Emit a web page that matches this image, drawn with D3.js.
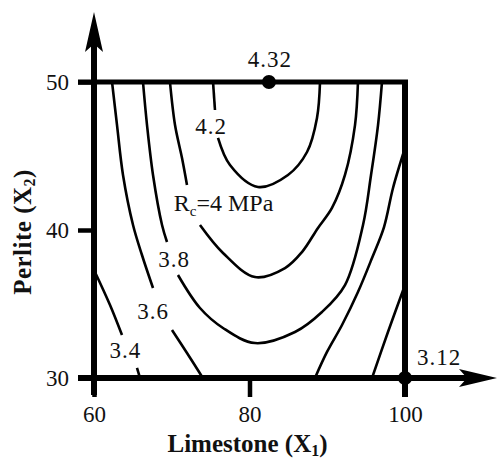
<!DOCTYPE html>
<html>
<head>
<meta charset="utf-8">
<script src="https://cdn.jsdelivr.net/npm/d3@7"></script>
<style>
  body { margin: 0; background: #fff; }
  svg text { font-family: "Liberation Serif", "DejaVu Serif", serif; fill: #111; }
  .tick text { font-size: 23px; font-family: "Liberation Serif", serif; }
  .clabel { font-size: 23px; }
  .title { font-size: 25px; font-weight: bold; }
</style>
</head>
<body>
<svg width="498" height="459"></svg>
<script>
// axis ticks
var x1Ticks = [60, 80, 100];
var x2Ticks = [30, 40, 50];

// contour levels (MPa)
var levels = [3.4, 3.6, 3.8, 4.0, 4.2];

// contour lines, [Limestone X1, Perlite X2]
// split where the level label sits on the line
var c34a = [[60, 37.3], [62.06, 34.93], [63.6, 32.9]];
var c34b = [[65.53, 30.68], [65.92, 30]];
var c34r = [[100, 36.28], [97.81, 33.11], [95.76, 30]];

var c36a = [[62.32, 50], [62.96, 47.09], [63.73, 43.72], [65.02, 40.34], [66.17, 38.31], [67.59, 36.08]];
var c36b = [[70.03, 33.24], [71.96, 31.69], [74.0, 30]];
var c36r = [[100, 45.54], [98.46, 42.84], [97.3, 40.2], [95.76, 38.11], [93.95, 35.81], [91.9, 33.58], [89.97, 31.76], [88.42, 30]];

var c38a = [[66.3, 50], [66.82, 47.09], [67.59, 43.72], [68.75, 40.34], [69.39, 39.19]];
var c38b = [[70.8, 36.96], [73.63, 34.73], [76.59, 33.38], [80.7, 32.36], [85.85, 33.11], [89.32, 34.46],
            [92.28, 36.28], [94.6, 40.34], [95.63, 43.72], [96.53, 47.09], [97.04, 50]];

var c40a = [[69.77, 50], [70.42, 47.09], [71.32, 44.86], [71.96, 43.04]];
var c40b = [[73.63, 40.34], [76.59, 38.45], [80.7, 36.82], [84.57, 37.43], [86.75, 38.51], [88.81, 40.14],
            [90.61, 41.49], [92.28, 43.72], [93.57, 47.09], [93.95, 50]];

var c42a = [[75.31, 50], [75.56, 48.11]];
var c42b = [[75.95, 46.22], [77.49, 44.39], [81.09, 42.91], [84.95, 43.72], [87.4, 45.27], [88.68, 47.57], [89.07, 50]];

var contourLines = [c34a, c34b, c34r, c36a, c36b, c36r, c38a, c38b, c40a, c40b, c42a, c42b];

// optimum points: max and min of Rc
var extremeX1 = [82.5, 100];
var extremeX2 = [50, 30];
var extremeVal = ["4.32", "3.12"];

var svg = d3.select("svg");

var x = d3.scaleLinear().domain([60, 100]).range([94, 405]);
var y = d3.scaleLinear().domain([30, 50]).range([378, 82]);

svg.append("clipPath").attr("id", "plot")
  .append("rect")
  .attr("x", x(60)).attr("y", y(50))
  .attr("width", x(100) - x(60)).attr("height", y(30) - y(50));

// contour lines
var line = d3.line()
  .x(function(d) { return x(d[0]); })
  .y(function(d) { return y(d[1]); })
  .curve(d3.curveCatmullRom.alpha(0.5));

svg.append("g")
  .attr("clip-path", "url(#plot)")
  .selectAll("path")
  .data(contourLines)
  .enter()
  .append("path")
  .attr("d", line)
  .attr("fill", "none")
  .attr("stroke", "#000")
  .attr("stroke-width", 2.6);

// axes (ticks + labels only, the thick lines are drawn below)
var yAxis = svg.append("g")
  .attr("transform", "translate(" + x(60) + ",0)")
  .call(d3.axisLeft(y).tickValues(x2Ticks).tickSize(16).tickPadding(9).tickFormat(d3.format("d")));
yAxis.attr("font-family", null).attr("font-size", null);
yAxis.select(".domain").remove();
yAxis.selectAll(".tick line").attr("stroke", "#000").attr("stroke-width", 4.5);
yAxis.selectAll(".tick text").attr("fill", "#111");

var xAxis = svg.append("g")
  .attr("transform", "translate(0," + y(30) + ")")
  .call(d3.axisBottom(x).tickValues(x1Ticks).tickSize(19).tickPadding(9).tickFormat(d3.format("d")));
xAxis.attr("font-family", null).attr("font-size", null);
xAxis.select(".domain").remove();
xAxis.selectAll(".tick line").attr("stroke", "#000").attr("stroke-width", 4.5);
xAxis.selectAll(".tick text").attr("fill", "#111");

// frame: top and right borders
svg.append("line")
  .attr("x1", 78).attr("x2", x(100) + 3)
  .attr("y1", y(50)).attr("y2", y(50))
  .attr("stroke", "#000").attr("stroke-width", 5);
svg.append("line")
  .attr("x1", x(100)).attr("x2", x(100))
  .attr("y1", y(50) - 2).attr("y2", y(30) + 19)
  .attr("stroke", "#000").attr("stroke-width", 6);

// main axes with arrows
svg.append("line")
  .attr("x1", x(60)).attr("x2", x(60))
  .attr("y1", y(30) + 17).attr("y2", 44)
  .attr("stroke", "#000").attr("stroke-width", 6);
svg.append("path")
  .attr("d", "M" + x(60) + ",12 L" + (x(60) + 9) + ",52 L" + x(60) + ",44 L" + (x(60) - 9) + ",52 Z")
  .attr("fill", "#000");

svg.append("line")
  .attr("x1", 78).attr("x2", 470)
  .attr("y1", y(30)).attr("y2", y(30))
  .attr("stroke", "#000").attr("stroke-width", 6);
svg.append("path")
  .attr("d", "M497," + y(30) + " L459," + (y(30) - 9) + " L467," + y(30) + " L459," + (y(30) + 9) + " Z")
  .attr("fill", "#000");

// extreme points
svg.selectAll(".ext")
  .data(extremeVal)
  .enter()
  .append("circle")
  .attr("class", "ext")
  .attr("cx", function(d, i) { return x(extremeX1[i]); })
  .attr("cy", function(d, i) { return y(extremeX2[i]); })
  .attr("r", 7)
  .attr("fill", "#000");

svg.append("text").attr("class", "clabel")
  .attr("x", x(extremeX1[0]) + 1).attr("y", y(extremeX2[0]) - 15)
  .attr("text-anchor", "middle").attr("letter-spacing", 1)
  .text(extremeVal[0]);
svg.append("text").attr("class", "clabel")
  .attr("x", x(extremeX1[1]) + 12).attr("y", y(extremeX2[1]) - 13)
  .attr("letter-spacing", 1)
  .text(extremeVal[1]);

// contour level labels
var labelAt = [[64.05, 31.89], [67.59, 34.56], [70.29, 38.01], null, [75.05, 47.06]];
levels.forEach(function(v, i) {
  if (!labelAt[i]) return;
  svg.append("text").attr("class", "clabel")
    .attr("x", x(labelAt[i][0]))
    .attr("y", y(labelAt[i][1]) + 8)
    .attr("text-anchor", "middle")
    .attr("letter-spacing", 1)
    .text(d3.format(".1f")(v));
});

var rc = svg.append("text")
  .attr("x", x(76.66)).attr("y", y(41.82) + 8)
  .attr("text-anchor", "middle")
  .style("font-size", "24px");
rc.append("tspan").text("R");
rc.append("tspan").attr("dy", 5).style("font-size", "15px").text("c");
rc.append("tspan").attr("dy", -5).text("=" + d3.format("d")(levels[3]) + " MPa");

// axis titles
var tx = svg.append("text").attr("class", "title")
  .attr("x", (x(60) + x(100)) / 2 - 2).attr("y", 452)
  .attr("text-anchor", "middle");
tx.append("tspan").text("Limestone (X");
tx.append("tspan").attr("dy", 4).style("font-size", "16px").text("1");
tx.append("tspan").attr("dy", -4).text(")");

var ty = svg.append("text").attr("class", "title")
  .attr("transform", "translate(31," + 232 + ") rotate(-90)")
  .attr("text-anchor", "middle")
  .attr("letter-spacing", 0.5);
ty.append("tspan").text("Perlite (X");
ty.append("tspan").attr("dy", 4).style("font-size", "16px").text("2");
ty.append("tspan").attr("dy", -4).text(")");
</script>
</body>
</html>
